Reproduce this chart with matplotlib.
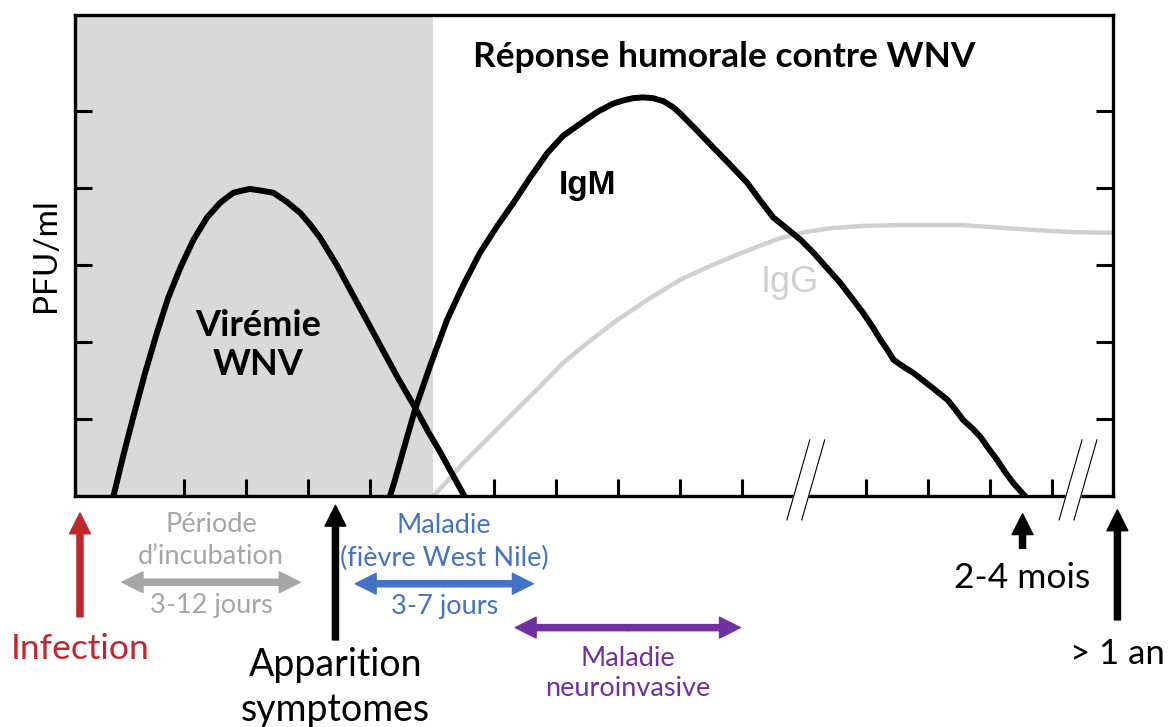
import matplotlib.pyplot as plt

# Courbes (unités : jours approximatifs en x, graduations en y)
vir_x = [0.86, 1.02, 1.18, 1.37, 1.56, 1.74, 1.94, 2.15, 2.37, 2.58, 2.79, 2.94, 3.06,
         3.23, 3.44, 3.66, 3.87, 4.03, 4.19, 4.47, 4.73, 4.94, 5.16, 5.45, 5.73,
         5.94, 6.13, 6.32, 6.52]
vir_y = [0.0, 0.53, 1.03, 1.60, 2.12, 2.57, 2.97, 3.33, 3.62, 3.81, 3.94, 3.97, 3.99,
         3.97, 3.94, 3.82, 3.68, 3.53, 3.36, 2.99, 2.60, 2.29, 1.96, 1.53, 1.14,
         0.83, 0.57, 0.29, 0.0]

igm_x = [5.32, 5.40, 5.48, 5.60, 5.73, 5.97, 6.24, 6.50, 6.77, 7.05, 7.31, 7.58, 7.86,
         8.11, 8.39, 8.66, 8.92, 9.08, 9.24, 9.40, 9.56, 9.73, 9.89, 10.0, 10.27,
         10.53, 10.81, 11.08, 11.29, 11.5, 11.73, 11.94, 12.15, 12.37, 12.58, 12.77,
         12.95, 13.10, 13.23, 13.34, 13.44, 13.60, 13.76, 14.03, 14.31, 14.44, 14.56,
         14.71, 14.84, 14.97, 15.11, 15.24, 15.37, 15.48, 15.56]
igm_y = [0.0, 0.21, 0.44, 0.78, 1.14, 1.70, 2.29, 2.74, 3.16, 3.51, 3.81, 4.14, 4.46,
         4.68, 4.84, 4.99, 5.10, 5.14, 5.17, 5.18, 5.17, 5.13, 5.05, 4.97, 4.75,
         4.53, 4.30, 4.07, 3.84, 3.62, 3.47, 3.33, 3.16, 2.96, 2.77, 2.57,
         2.38, 2.20, 2.03, 1.90, 1.77, 1.68, 1.60, 1.43, 1.25, 1.12, 0.99,
         0.88, 0.77, 0.62, 0.47, 0.31, 0.17, 0.07, 0.0]

igg_x = [6.02, 6.26, 6.5, 6.90, 7.31, 7.71, 8.11, 8.52, 8.92, 9.47, 10.0, 10.40, 10.81,
         11.21, 11.61, 12.02, 12.42, 12.95, 13.5, 14.03, 14.56, 15.11, 15.65, 16.29, 16.98]
igg_y = [0.0, 0.21, 0.43, 0.75, 1.08, 1.40, 1.73, 2.0, 2.25, 2.55, 2.81, 2.96, 3.10,
         3.23, 3.35, 3.43, 3.48, 3.51, 3.52, 3.52, 3.52, 3.49, 3.46, 3.43, 3.42]

incubation_end = 6.02
x_ticks = [2, 3, 4, 5, 7, 8, 9, 10, 11, 13, 14, 15, 16]
y_ticks = [1, 2, 3, 4, 5]
breaks = [12.03, 16.42]

# Flèches d'évènements
event_labels = ["Infection", "Apparition\nsymptomes", "2-4 mois", "> 1 an"]
event_x = [0.32, 4.44, 15.52, 17.05]
event_tail = [-1.57, -1.87, -0.68, -1.61]
event_tip = [-0.22, -0.12, -0.23, -0.18]
event_colors = ["#c0272d", "black", "black", "black"]
event_text_y = [-1.99, -2.49, -1.07, -2.05]
event_sizes = [25.5, 27, 25.5, 25]

# Périodes (flèches doubles)
period_top = ["Période\nd\u2019incubation", "Maladie\n(fièvre West Nile)", None]
period_bottom = ["3-12 jours", "3-7 jours", "Maladie\nneuroinvasive"]
period_start = [1.0, 4.76, 7.34]
period_end = [3.87, 7.63, 10.97]
period_y = [-1.12, -1.14, -1.71]
period_colors = ["#a6a6a6", "#4472c4", "#7030a0"]

fig = plt.figure(figsize=(11.74, 7.27), dpi=100)
ax = fig.add_axes([0.0639, 0.3177, 0.8842, 0.6616])

ax.axvspan(0.24, incubation_end, color="#d9d9d9", lw=0, zorder=0)
ax.plot(igg_x, igg_y, color="#d0d0d0", lw=3.2, solid_capstyle="butt", zorder=2)
ax.plot(vir_x, vir_y, color="black", lw=4.3, solid_joinstyle="round", zorder=3)
ax.plot(igm_x, igm_y, color="black", lw=4.3, solid_joinstyle="round", zorder=3)

ax.set_xlim(0.24, 16.98)
ax.set_ylim(0, 6.25)
ax.set_xticks(x_ticks)
ax.set_yticks(y_ticks)
ax.tick_params(axis="both", direction="in", length=12, width=2.2,
               labelbottom=False, labelleft=False)
ax.tick_params(axis="y", right=True)
for s in ax.spines.values():
    s.set_linewidth(2.4)

ax.set_ylabel("PFU/ml", fontsize=24, family="Lato", labelpad=10)

ax.text(10.71, 5.70, "Réponse humorale contre WNV", fontsize=25.5, family="Lato",
        weight="bold", ha="center", va="center")
ax.text(3.19, 1.96, "Virémie\nWNV", fontsize=26, family="Lato", weight="bold",
        ha="center", va="center", linespacing=1.2)
ax.text(8.5, 4.04, "IgM", fontsize=24, family="Liberation Sans", weight="bold",
        ha="center", va="center")
ax.text(11.77, 2.78, "IgG", fontsize=26, family="Liberation Sans", color="#cfcfcf",
        ha="center", va="center")

# coupures de l'axe
for b in breaks:
    bx = [b - 0.31, b - 0.07, b + 0.30, b + 0.06]
    by = [-0.31, -0.31, 0.73, 0.73]
    ax.fill(bx, by, color="white", clip_on=False, zorder=5)
    ax.plot([bx[0], bx[3]], [by[0], by[3]], color="black", lw=0.8, clip_on=False, zorder=6)
    ax.plot([bx[1], bx[2]], [by[1], by[2]], color="black", lw=0.8, clip_on=False, zorder=6)

arrow_style = "simple,head_length=0.75,head_width=0.75,tail_width=0.22"
for lab, x, t, h, c, ty, fs in zip(event_labels, event_x, event_tail, event_tip,
                                   event_colors, event_text_y, event_sizes):
    ax.annotate("", xy=(x, h), xytext=(x, t), annotation_clip=False,
                arrowprops=dict(arrowstyle=arrow_style, color=c, mutation_scale=20,
                                shrinkA=0, shrinkB=0))
    ax.text(x, ty, lab, fontsize=fs, family="Lato", color=c, ha="center",
            va="center", linespacing=1.3)

for top, bottom, x0, x1, y, c in zip(period_top, period_bottom, period_start,
                                     period_end, period_y, period_colors):
    mid = (x0 + x1) / 2
    for end in (x0, x1):
        ax.annotate("", xy=(end, y), xytext=(mid, y), annotation_clip=False,
                    arrowprops=dict(arrowstyle=arrow_style, color=c, mutation_scale=20,
                                    shrinkA=0, shrinkB=0))
    if top is not None:
        ax.text(mid, y + 0.54, top, fontsize=19.5, family="Lato", color=c,
                ha="center", va="center", linespacing=1.38)
        ax.text(mid, y - 0.3, bottom, fontsize=19.5, family="Lato", color=c,
                ha="center", va="center")
    else:
        ax.text(mid, y - 0.59, bottom, fontsize=19.5, family="Lato", color=c,
                ha="center", va="center", linespacing=1.25)

fig.savefig("out.png", dpi=100)
